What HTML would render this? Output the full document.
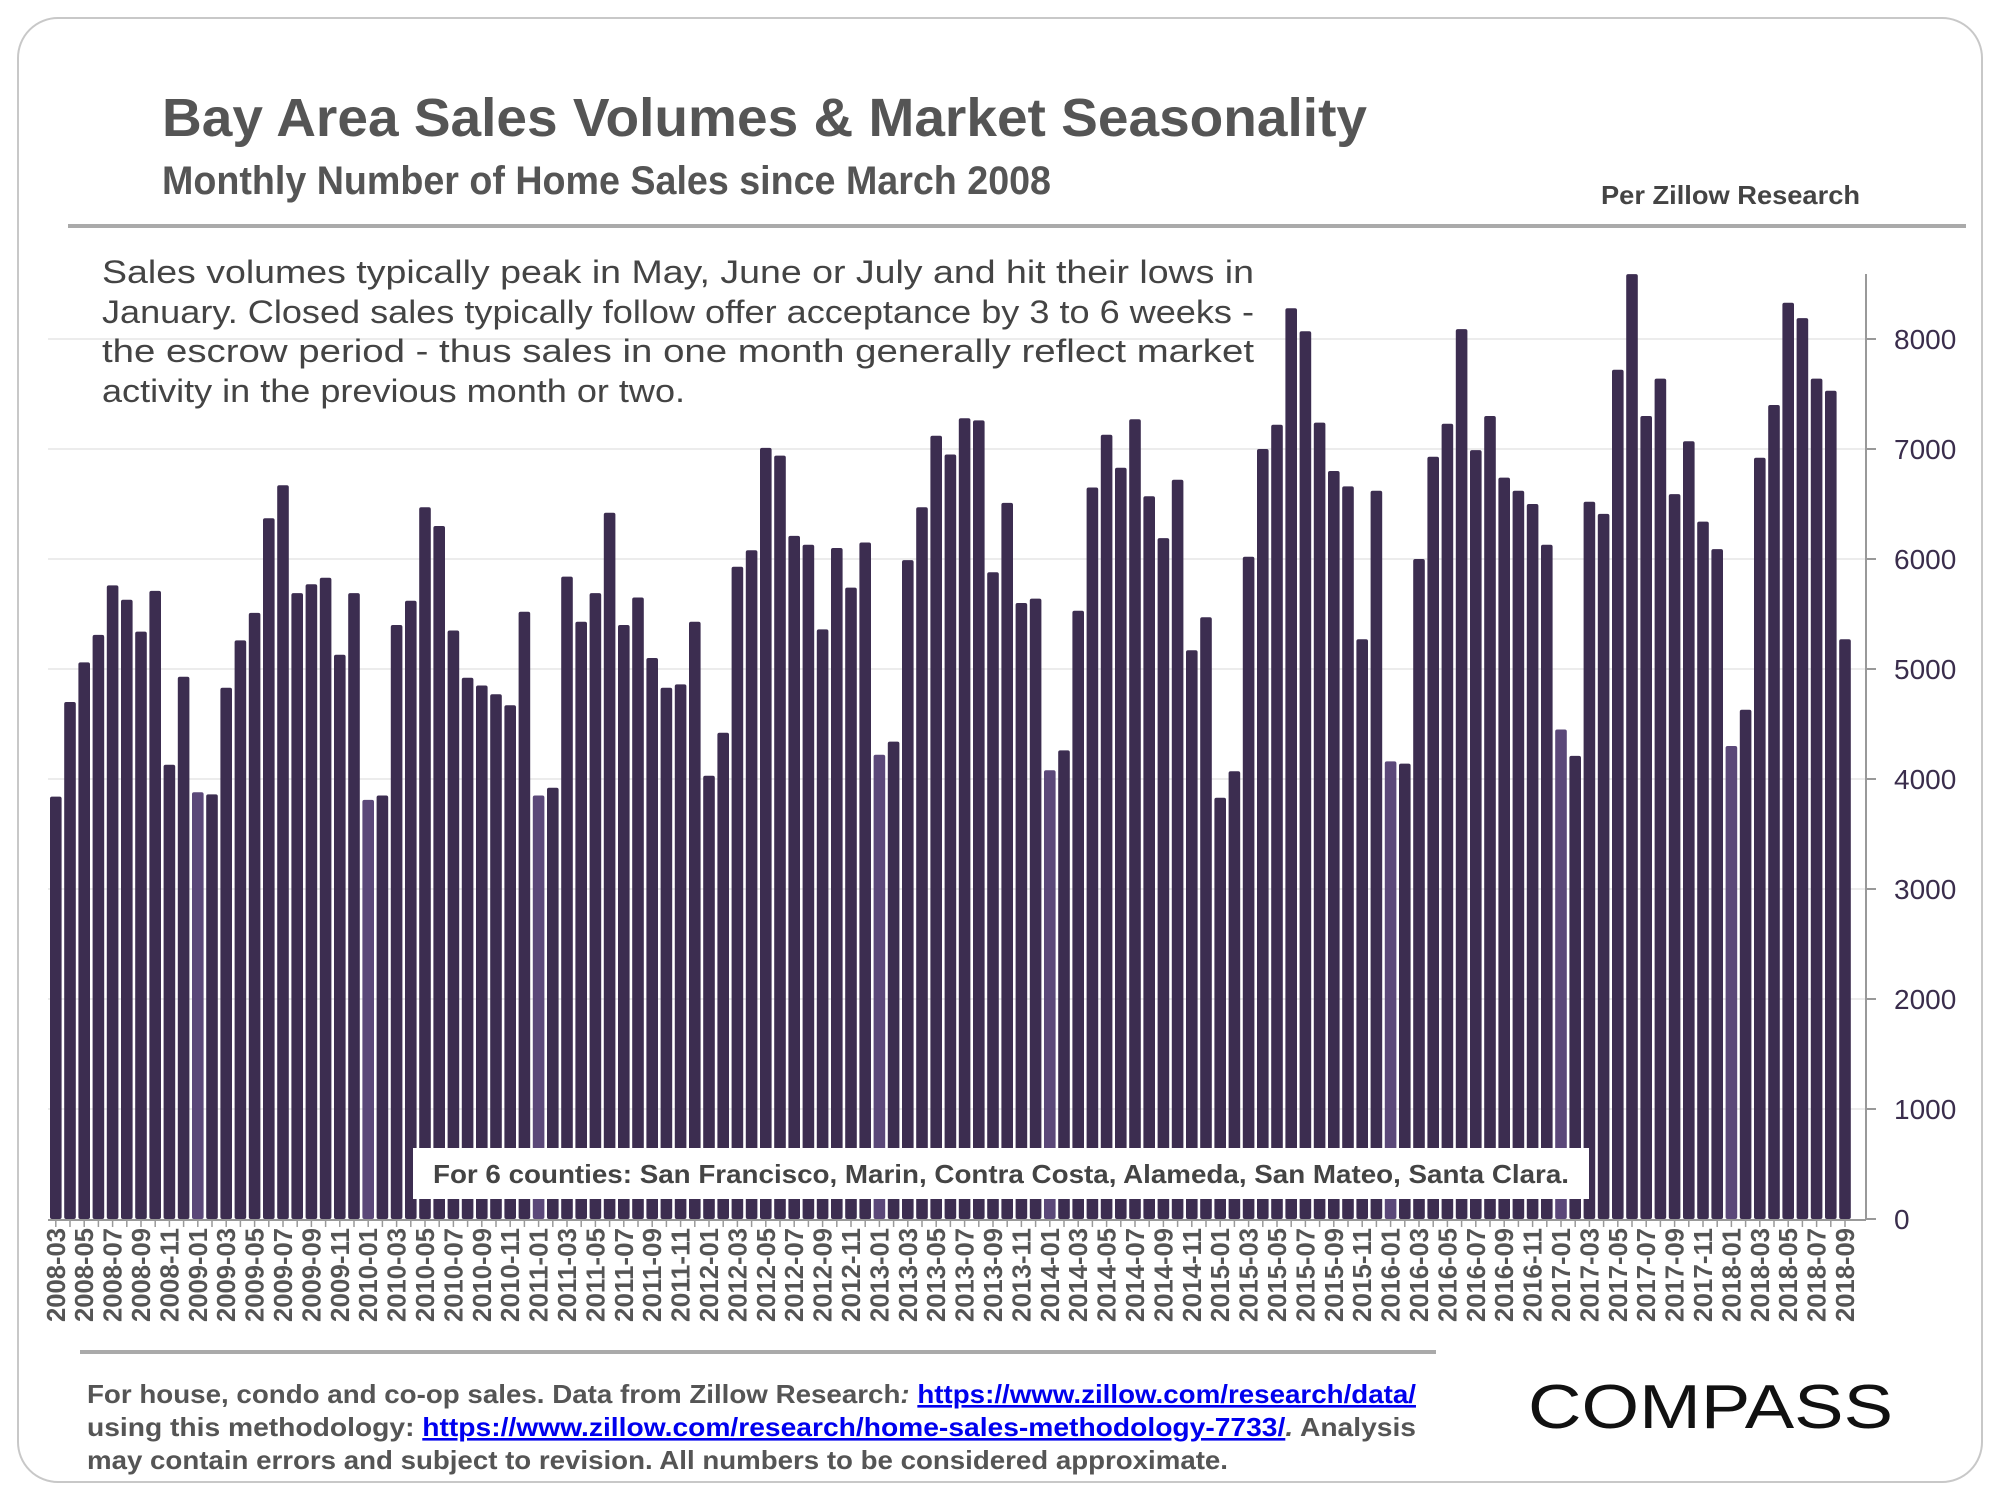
<!DOCTYPE html>
<html><head><meta charset="utf-8"><style>
html,body{margin:0;padding:0;background:#fff;}
body{width:2000px;height:1500px;overflow:hidden;font-family:"Liberation Sans",sans-serif;}
</style></head><body>
<svg id="chart" width="2000" height="1500" viewBox="0 0 2000 1500" xmlns="http://www.w3.org/2000/svg">
<rect x="18" y="18" width="1964" height="1464" rx="40" fill="#fff" stroke="#c8c8c8" stroke-width="2"/>
<text x="162" y="136" font-family="Liberation Sans, sans-serif" font-weight="bold" font-size="54" fill="#555" textLength="1205" lengthAdjust="spacingAndGlyphs">Bay Area Sales Volumes &amp; Market Seasonality</text>
<text x="162" y="194" font-family="Liberation Sans, sans-serif" font-weight="bold" font-size="40" fill="#555" textLength="889" lengthAdjust="spacingAndGlyphs">Monthly Number of Home Sales since March 2008</text>
<text x="1601" y="204" font-family="Liberation Sans, sans-serif" font-weight="bold" font-size="26" fill="#444" textLength="259" lengthAdjust="spacingAndGlyphs">Per Zillow Research</text>
<rect x="68" y="224" width="1898" height="4" fill="#aaa"/>
<g id="grid"></g>
<g id="bars"></g>
<g id="yaxis"></g>
<g id="xaxis"></g>
<g font-family="Liberation Sans, sans-serif" font-size="32" fill="#444">
<text x="102" y="283" textLength="1152" lengthAdjust="spacingAndGlyphs">Sales volumes typically peak in May, June or July and hit their lows in</text>
<text x="102" y="323" textLength="1152" lengthAdjust="spacingAndGlyphs">January. Closed sales typically follow offer acceptance by 3 to 6 weeks -</text>
<text x="102" y="362" textLength="1152" lengthAdjust="spacingAndGlyphs">the escrow period - thus sales in one month generally reflect market</text>
<text x="102" y="402" textLength="583" lengthAdjust="spacingAndGlyphs">activity in the previous month or two.</text>
</g>
<rect x="413" y="1148" width="1176" height="51" fill="#fff"/>
<text x="1001" y="1183" text-anchor="middle" font-family="Liberation Sans, sans-serif" font-weight="bold" font-size="26" fill="#444" textLength="1136" lengthAdjust="spacingAndGlyphs">For 6 counties: San Francisco, Marin, Contra Costa, Alameda, San Mateo, Santa Clara.</text>
<rect x="80" y="1350" width="1356" height="4" fill="#aaa"/>
<g font-family="Liberation Sans, sans-serif" font-weight="bold" font-size="26" fill="#555">
<text x="87" y="1403" textLength="1329" lengthAdjust="spacingAndGlyphs">For house, condo and co-op sales. Data from Zillow Research<tspan font-style="italic">: </tspan><tspan fill="#0000ee" text-decoration="underline">https://www.zillow.com/research/data/</tspan></text>
<text x="87" y="1436" textLength="1329" lengthAdjust="spacingAndGlyphs">using  this  methodology:  <tspan fill="#0000ee" text-decoration="underline">https://www.zillow.com/research/home-sales-methodology-7733/</tspan><tspan font-style="italic">.</tspan>  Analysis</text>
<text x="87" y="1469" textLength="1141" lengthAdjust="spacingAndGlyphs">may contain errors and subject to revision. All numbers to be considered approximate.</text>
</g>
<text x="1528" y="1428" font-family="Liberation Sans, sans-serif" font-size="62" fill="#111" textLength="365" lengthAdjust="spacingAndGlyphs">COMPASS</text>
</svg>
<script>
const categories = [];
for (let y = 2008, m = 3; categories.length < 127; ) { categories.push(y + '-' + String(m).padStart(2,'0')); m++; if (m > 12) { m = 1; y++; } }
const salesValues = [
3840,4700,5060,5310,5760,5630,5340,5710,4130,4930,
3880,3860,4830,5260,5510,6370,6670,5690,5770,5830,5130,5690,
3810,3850,5400,5620,6470,6300,5350,4920,4850,4770,4670,5520,
3850,3920,5840,5430,5690,6420,5400,5650,5100,4830,4860,5430,
4030,4420,5930,6080,7010,6940,6210,6130,5360,6100,5740,6150,
4220,4340,5990,6470,7120,6950,7280,7260,5880,6510,5600,5640,
4080,4260,5530,6650,7130,6830,7270,6570,6190,6720,5170,5470,
3830,4070,6020,7000,7220,8280,8070,7240,6800,6660,5270,6620,
4160,4140,6000,6930,7230,8090,6990,7300,6740,6620,6500,6130,
4450,4210,6520,6410,7720,8590,7300,7640,6590,7070,6340,6090,
4300,4630,6920,7400,8330,8190,7640,7530,5270];
const yTicks = [0,1000,2000,3000,4000,5000,6000,7000,8000];
const highlightMonths = ['2009-01','2010-01','2011-01','2013-01','2014-01','2016-01','2017-01','2018-01'];

const NS = 'http://www.w3.org/2000/svg';
const y0 = 1219, pxPer = 0.110, x0 = 50, pitch = 14.2, bw = 11.6;
const yScale = v => y0 - v * pxPer;
const xScale = i => x0 + i * pitch;
function mk(tag, attrs, parent) { const e = document.createElementNS(NS, tag); for (const k in attrs) e.setAttribute(k, attrs[k]); parent.appendChild(e); return e; }

const grid = document.getElementById('grid'), yaxis = document.getElementById('yaxis'), xaxis = document.getElementById('xaxis'), bars = document.getElementById('bars');
yTicks.forEach(t => {
  if (t > 0) { const g = mk('line', {x1: 48, x2: 1866, y1: yScale(t), y2: yScale(t), stroke: '#ececec', 'stroke-width': 2}, grid);
    
     }
  const tk = mk('line', {x1: 1866, x2: 1876, y1: yScale(t), y2: yScale(t), stroke: '#999', 'stroke-width': 2}, yaxis);
  
  
  const lb = mk('text', {x: 1894, y: yScale(t) + 10, 'font-family': 'Liberation Sans, sans-serif', 'font-size': 28, fill: '#3a2d4c'}, yaxis);
  lb.textContent = t;
  
  
});
const ax = mk('line', {x1: 1866, x2: 1866, y1: 274, y2: y0, stroke: '#999', 'stroke-width': 2}, yaxis);


const bx = mk('line', {x1: 48, x2: 1866, y1: y0 + 1, y2: y0 + 1, stroke: '#999', 'stroke-width': 2}, xaxis);



salesValues.forEach((v, i) => {
  const x = xScale(i), top = yScale(v);
  const light = highlightMonths.includes(categories[i]);
  const b = mk('rect', {x: x, y: top, width: bw, height: y0 - top, rx: 2, fill: light ? '#5b4879' : '#3c2d50'}, bars);
  
  
  const tk = mk('line', {x1: x + bw / 2, x2: x + bw / 2, y1: y0, y2: y0 + 8, stroke: '#999', 'stroke-width': 1.5}, xaxis);
  
  
  if (i % 2 === 0) {
    const cx = x + bw / 2 + 9;
    const lb = mk('text', {x: cx, y: 1228, transform: 'rotate(-90 ' + cx + ' 1228)', 'text-anchor': 'end', 'font-family': 'Liberation Sans, sans-serif', 'font-weight': 'bold', 'font-size': 26, fill: '#555', textLength: 94, lengthAdjust: 'spacingAndGlyphs'}, xaxis);
    lb.textContent = categories[i];
    
    
  }
});
</script>
</body></html>
